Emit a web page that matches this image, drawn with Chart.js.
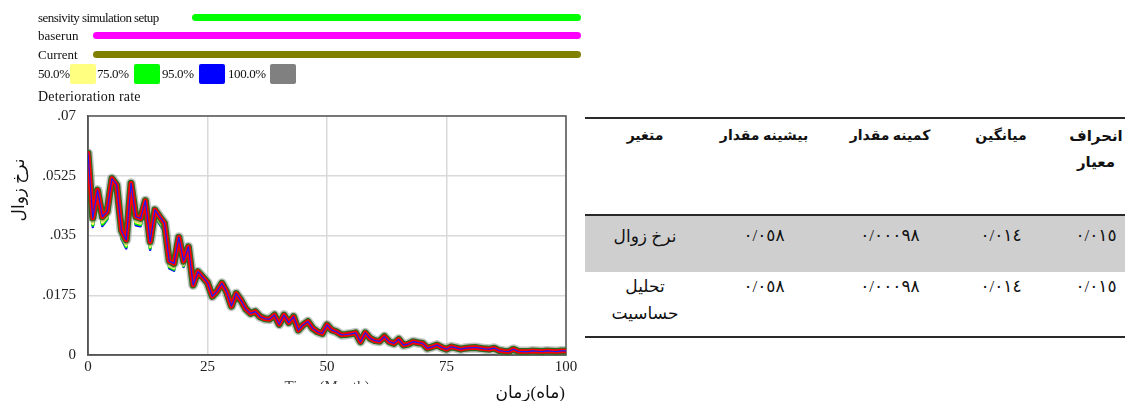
<!DOCTYPE html>
<html>
<head>
<meta charset="utf-8">
<script src="https://cdn.jsdelivr.net/npm/chart.js@4.4.1/dist/chart.umd.min.js"></script>
<style>
  html, body { margin: 0; padding: 0; background: #fff; }
  body { position: relative; width: 1125px; height: 401px; overflow: hidden;
         font-family: "Liberation Serif", "DejaVu Sans", serif; color: #111; }
  #chartBox { position: absolute; left: 0; top: 0; width: 600px; height: 401px; }
  .lgText { position: absolute; font-size: 13px; line-height: 13px; white-space: nowrap; }
  .lgBar { position: absolute; height: 7px; border-radius: 4px; }
  .lgSwatch { position: absolute; width: 26px; height: 20px; border-radius: 2px; }
  .rule { position: absolute; left: 585px; width: 540px; height: 2px; background: #2a2a2a; }
  .shade { position: absolute; left: 585px; width: 540px; top: 216px; height: 56px; background: #cfcfcf; }
  .cell { position: absolute; transform: translate(-50%, -50%); direction: rtl; text-align: center;
          white-space: nowrap; font-family: "Liberation Serif", "DejaVu Sans", serif; }
  .head { font-weight: bold; font-size: 14px; line-height: 26px; }
  .val { font-size: 17px; line-height: 26px; letter-spacing: 0.5px; }
  .name { font-size: 17px; line-height: 27px; }
  #xTitleFa { position: absolute; right: 560px; top: 384px; font-size: 17px; line-height: 18px;
              direction: ltr; white-space: nowrap; font-family: "Liberation Serif", "DejaVu Sans", serif; }
  #xTitleFa span { display: inline-block; }
</style>
</head>
<body>
<div id="chartBox"><canvas id="c" width="600" height="401"></canvas></div>
<div id="xTitleFa"></div>
<div id="legend"></div>
<div id="table"></div>
<script>
// ---- simulation outputs: deterioration rate per month ----
const months = Array.from({ length: 101 }, (_, i) => i);

const deteriorationRate = [
  0.0591, 0.0401, 0.0483, 0.0405, 0.0420, 0.0517, 0.0498, 0.0365, 0.0337, 0.0503,
  0.0405, 0.0400, 0.0452, 0.0332, 0.0425, 0.0405, 0.0386, 0.0275, 0.0268, 0.0345,
  0.0275, 0.0317, 0.0205, 0.0244, 0.0228, 0.0212, 0.0172, 0.0187, 0.0210, 0.0185,
  0.0143, 0.0180, 0.0160, 0.0135, 0.0122, 0.0127, 0.0112, 0.0106, 0.0105, 0.0117,
  0.0090, 0.0117, 0.0095, 0.0112, 0.0073, 0.0088, 0.0098, 0.0078, 0.0068, 0.0063,
  0.0088, 0.0073, 0.0068, 0.0059, 0.0060, 0.0062, 0.0065, 0.0039, 0.0065, 0.0049,
  0.0042, 0.0040, 0.0054, 0.0039, 0.0034, 0.0046, 0.0029, 0.0032, 0.0039, 0.0036,
  0.0034, 0.0020, 0.0024, 0.0029, 0.0022, 0.0017, 0.0024, 0.0021, 0.0017, 0.0020,
  0.0021, 0.0022, 0.0020, 0.0018, 0.0017, 0.0020, 0.0013, 0.0011, 0.0010, 0.0017,
  0.0011, 0.0010, 0.0010, 0.0012, 0.0011, 0.0010, 0.0012, 0.0011, 0.0010, 0.0012,
  0.0012
];

// lower edges of the confidence bands over the first months (where they show)
const band50Low = [
  0.0585, 0.0385, 0.0470, 0.0389, 0.0405, 0.0505, 0.0484, 0.0350, 0.0322, 0.0492,
  0.0390, 0.0386, 0.0440, 0.0318, 0.0413, 0.0392, 0.0372, 0.0262, 0.0255, 0.0336,
  0.0264, 0.0310
];
const band75Low = [
  0.0583, 0.0380, 0.0466, 0.0383, 0.0400, 0.0501, 0.0479, 0.0345, 0.0317, 0.0488,
  0.0385, 0.0381, 0.0436, 0.0313, 0.0409, 0.0387, 0.0367, 0.0258, 0.0251, 0.0333,
  0.0261, 0.0308
];
const band95Low = [
  0.0581, 0.0375, 0.0462, 0.0378, 0.0396, 0.0498, 0.0475, 0.0340, 0.0312, 0.0484,
  0.0380, 0.0377, 0.0432, 0.0308, 0.0405, 0.0383, 0.0362, 0.0254, 0.0247, 0.0330,
  0.0258, 0.0306
];

const xTickValues = [0, 25, 50, 75, 100];
const yTickValues = [0, 0.0175, 0.035, 0.0525, 0.07];
const yTickLabels = ['0', '.0175', '.035', '.0525', '.07'];

const runNames = ['sensivity simulation setup', 'baserun', 'Current'];
const runColors = ['#00ff00', '#ff00ff', '#808000'];
const bandNames = ['50.0%', '75.0%', '95.0%', '100.0%'];
const bandColors = ['#ffff80', '#00ff00', '#0000ff', '#808080'];

const variableTitle = 'Deterioration rate';
const yTitle = 'نرخ زوال';
const xTitleEn = 'Time (Month)';
const xTitleFaWord = 'زمان';
const xTitleFaUnit = '(ماه)';

// ---- statistics table ----
const tableHeaders = ['انحراف معيار', 'ميانگين', 'كمينه مقدار', 'بيشينه مقدار', 'متغير'];
const tableRows = [
  ['٠/٠١٥', '٠/٠١٤', '٠/٠٠٠٩٨', '٠/٠٥٨', 'نرخ زوال'],
  ['٠/٠١٥', '٠/٠١٤', '٠/٠٠٠٩٨', '٠/٠٥٨', 'تحليل حساسيت']
];

// ---- Persian x-axis title (word and unit kept in visual order) ----
(function () {
  const box = document.getElementById('xTitleFa');
  [xTitleFaWord, xTitleFaUnit].forEach(t => {
    const s = document.createElement('span');
    s.textContent = t;
    box.appendChild(s);
  });
})();

// ---- legend ----
(function buildLegend() {
  const lg = document.getElementById('legend');
  const add = (cls, style, text) => {
    const d = document.createElement('div');
    d.className = cls;
    Object.assign(d.style, style);
    if (text) d.textContent = text;
    lg.appendChild(d);
    return d;
  };
  const rowTops = [11, 29, 48];
  const barLefts = [192, 93, 93];
  const rowSpacing = ['-0.55px', '0px', '0px'];
  runNames.forEach((name, i) => {
    add('lgText', { left: '38px', top: rowTops[i] + 'px', letterSpacing: rowSpacing[i] }, name);
    add('lgBar', { left: barLefts[i] + 'px', top: (rowTops[i] + 3) + 'px', width: (581 - barLefts[i]) + 'px', background: runColors[i] });
  });
  const textLefts = [38, 97, 162, 228];
  const swLefts = [70, 134, 199, 270];
  bandNames.forEach((name, i) => {
    add('lgText', { left: textLefts[i] + 'px', top: '67px', letterSpacing: '-0.4px' }, name);
    add('lgSwatch', { left: swLefts[i] + 'px', top: '64px', background: bandColors[i] });
  });
  add('lgText', { left: '38px', top: '90px', fontSize: '14px', letterSpacing: '0.2px' }, variableTitle);
})();

// ---- table ----
(function buildTable() {
  const tb = document.getElementById('table');
  const div = (cls, style, html) => {
    const d = document.createElement('div');
    d.className = cls;
    Object.assign(d.style, style);
    if (html !== undefined) d.innerHTML = html;
    tb.appendChild(d);
    return d;
  };
  div('shade', {});
  div('rule', { top: '117px' });
  div('rule', { top: '214px' });
  div('rule', { top: '336px' });
  const colX = [1096, 1001, 890, 764, 645];
  const splitTwo = s => s.split(' ').join('<br>');
  tableHeaders.forEach((h, i) => {
    const wrapped = i === 0;
    div('cell head', { left: colX[i] + 'px', top: (wrapped ? 149 : 136) + 'px',
                       fontSize: wrapped ? '15px' : '14px' }, wrapped ? splitTwo(h) : h);
  });
  const rowY = [236, 287];
  tableRows.forEach((row, r) => {
    row.forEach((v, i) => {
      const isName = i === row.length - 1;
      const twoLine = isName && r === 1;
      div('cell ' + (isName ? 'name' : 'val'),
          { left: colX[i] + 'px', top: (twoLine ? rowY[r] + 13 : rowY[r]) + 'px' },
          twoLine ? splitTwo(v) : v);
    });
  });
})();

// ---- chart ----
const pts = arr => arr.map((v, i) => ({ x: months[i], y: v }));

const framePlugin = {
  id: 'frame',
  beforeDatasetsDraw(chart) {
    const { ctx, chartArea: a } = chart;
    ctx.save();
    ctx.strokeStyle = '#555';
    ctx.lineWidth = 1.5;
    ctx.strokeRect(a.left, a.top, a.right - a.left, a.bottom - a.top);
    ctx.restore();
  },
  afterDraw(chart) {
    const { ctx } = chart;
    ctx.save();
    // rotated y title
    ctx.translate(20, 190);
    ctx.rotate(-Math.PI / 2);
    ctx.font = '17px "Liberation Serif", "DejaVu Sans", serif';
    ctx.fillStyle = '#111';
    ctx.textAlign = 'center';
    ctx.textBaseline = 'middle';
    ctx.fillText(yTitle, 0, 0);
    ctx.restore();

    // English axis title, partly hidden beneath the Persian one
    ctx.save();
    ctx.beginPath();
    ctx.rect(250, 378, 150, 6);
    ctx.clip();
    ctx.font = '15px "Liberation Serif", serif';
    ctx.fillStyle = '#444';
    ctx.textAlign = 'center';
    ctx.textBaseline = 'top';
    ctx.fillText(xTitleEn, 327, 380);
    ctx.restore();
  }
};

const lineBase = { pointRadius: 0, tension: 0, fill: false, borderJoinStyle: 'round', borderCapStyle: 'round' };

new Chart(document.getElementById('c'), {
  type: 'line',
  data: {
    datasets: [
      { ...lineBase, label: 'center', data: pts(deteriorationRate), borderColor: '#1a1aff', borderWidth: 1.2 },
      { ...lineBase, label: 'run', data: pts(deteriorationRate), borderColor: '#ff0000', borderWidth: 4.5 },
      { ...lineBase, label: 'edge', data: pts(deteriorationRate), borderColor: '#2f6a22', borderWidth: 7 },
      { ...lineBase, label: '100.0%', data: pts(deteriorationRate), borderColor: 'rgba(120,128,120,0.45)', borderWidth: 10 },
      { ...lineBase, label: '50.0%', data: pts(band50Low), borderColor: '#ffff66', borderWidth: 3 },
      { ...lineBase, label: '75.0%', data: pts(band75Low), borderColor: '#00ee00', borderWidth: 3 },
      { ...lineBase, label: '95.0%', data: pts(band95Low), borderColor: '#0000ff', borderWidth: 2.5 }
    ]
  },
  options: {
    responsive: false,
    animation: false,
    devicePixelRatio: 1,
    layout: { padding: { left: 0, top: 116, right: 34, bottom: 0 } },
    plugins: { legend: { display: false }, tooltip: { enabled: false } },
    scales: {
      x: {
        type: 'linear', min: 0, max: 100,
        afterBuildTicks: s => { s.ticks = xTickValues.map(v => ({ value: v })); },
        afterFit: s => { s.height = 46; },
        ticks: { color: '#222', font: { family: '"Liberation Serif", serif', size: 15 }, padding: 3, maxRotation: 0 },
        grid: { color: '#d9d9d9', lineWidth: 1.5, drawTicks: false },
        border: { display: true, color: '#555', width: 1.5 }
      },
      y: {
        type: 'linear', min: 0, max: 0.07,
        afterBuildTicks: s => { s.ticks = yTickValues.map(v => ({ value: v })); },
        afterFit: s => { s.width = 88; },
        ticks: {
          color: '#222', font: { family: '"Liberation Serif", serif', size: 15 }, padding: 12,
          callback: (v, i) => yTickLabels[i]
        },
        grid: { color: '#d9d9d9', lineWidth: 1.5, drawTicks: false },
        border: { display: true, color: '#555', width: 1.5 }
      }
    }
  },
  plugins: [framePlugin]
});
</script>
</body>
</html>
